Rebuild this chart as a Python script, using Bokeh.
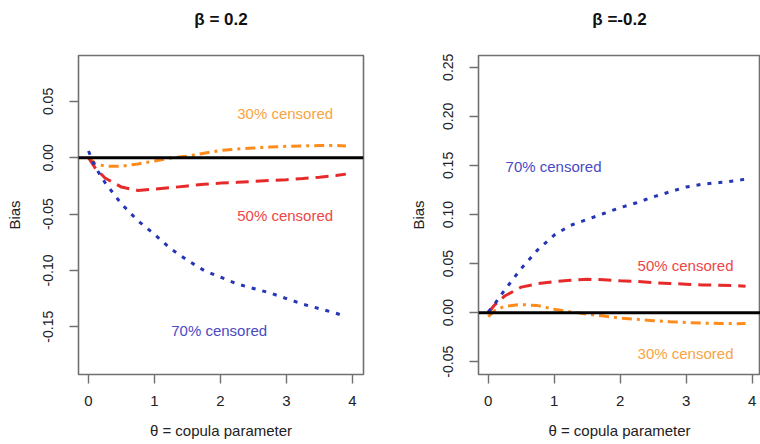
from bokeh.plotting import figure
from bokeh.layouts import row
from bokeh.models import (LinearAxis, Span, FixedTicker, NumeralTickFormatter,
                          Range1d)
from bokeh.embed import file_html
from bokeh.resources import INLINE

# ---------------- data ----------------
theta = [0, 0.1, 0.25, 0.5, 0.75, 1.0, 1.25, 1.5, 1.75, 2.0, 2.25, 2.5, 2.75,
         3.0, 3.25, 3.5, 3.75, 3.9]

# beta = 0.2
pos_c30 = [0.0005, -0.005, -0.0075, -0.0075, -0.0055, -0.0028, -0.0002, 0.0015,
           0.004, 0.0065, 0.0078, 0.0087, 0.0095, 0.0102, 0.0106, 0.0108, 0.011, 0.0105]
pos_c50 = [0.0, -0.009, -0.018, -0.026, -0.029, -0.0278, -0.0265, -0.025,
           -0.0235, -0.0225, -0.0218, -0.021, -0.0202, -0.0194, -0.0184, -0.0172, -0.0158, -0.0145]
pos_c70 = [0.006, -0.008, -0.022, -0.041, -0.056, -0.068, -0.081, -0.091,
           -0.100, -0.106, -0.112, -0.116, -0.120, -0.125, -0.130, -0.134, -0.138, -0.141]

# beta = -0.2
neg_c30 = [-0.004, 0.002, 0.0065, 0.0083, 0.0072, 0.0035, 0.0008, -0.0015,
           -0.0035, -0.0055, -0.0068, -0.0082, -0.0092, -0.0100, -0.0106, -0.0110, -0.0112, -0.0110]
neg_c50 = [0.0, 0.008, 0.017, 0.026, 0.0295, 0.0315, 0.033, 0.034,
           0.0335, 0.0325, 0.0318, 0.0305, 0.0297, 0.0290, 0.0283, 0.0279, 0.0275, 0.027]
neg_c70 = [0.0007, 0.009, 0.023, 0.045, 0.064, 0.079, 0.089, 0.095,
           0.101, 0.107, 0.112, 0.118, 0.123, 0.128, 0.131, 0.1325, 0.1345, 0.136]

series_labels = ["30% censored", "50% censored", "70% censored"]
pos_label_x = [2.98, 2.98, 1.98]
pos_label_y = [0.039, -0.051, -0.153]
neg_label_x = [2.99, 2.99, 0.99]
neg_label_y = [-0.042, 0.048, 0.149]

pos_yticks = [-0.15, -0.10, -0.05, 0.0, 0.05]
neg_yticks = [-0.05, 0.0, 0.05, 0.10, 0.15, 0.20, 0.25]
xticks = [0, 1, 2, 3, 4]

titles = ["\u03b2 = 0.2", "\u03b2 =-0.2"]
xlabel = "\u03b8 = copula parameter"
ylabel = "Bias"

# ---------------- style ----------------
FONT = "Liberation Sans"
line_colors = ["#FF8C1A", "#E62A2A", "#2535B5"]
text_colors = ["#F9A443", "#EE4646", "#4A4AC4"]
dashes = ["10 5 3 5", "13 7", "4 7"]
BOX = "#707070"


def panel(width, height, bl, br, bt, bb, xr, yr, yticks, title, series, lx, ly,
          ylab_standoff):
    p = figure(width=width, height=height, output_backend="svg",
               toolbar_location=None, x_range=Range1d(*xr), y_range=Range1d(*yr),
               min_border_left=bl, min_border_right=br, min_border_top=bt,
               min_border_bottom=bb)
    p.grid.visible = False
    p.background_fill_color = "white"
    p.border_fill_color = "white"
    p.outline_line_color = BOX
    p.outline_line_width = 1.6
    xa = p.below[0]
    ya = p.left[0]
    for ax in (xa, ya):
        ax.axis_line_color = None
        ax.major_tick_line_color = BOX
        ax.major_tick_line_width = 1.4
        ax.major_tick_out = 9
        ax.major_tick_in = 0
        ax.minor_tick_line_color = None
        ax.major_label_text_font = FONT
        ax.major_label_text_color = "#222222"
        ax.axis_label_text_font = FONT
        ax.axis_label_text_font_style = "normal"
        ax.axis_label_text_font_size = "15px"
        ax.axis_label_text_color = "#222222"
    xa.ticker = FixedTicker(ticks=xticks)
    xa.major_label_text_font_size = "15px"
    xa.major_label_standoff = 12
    xa.axis_label = xlabel
    xa.axis_label_standoff = 13
    ya.ticker = FixedTicker(ticks=yticks)
    ya.formatter = NumeralTickFormatter(format="0.00")
    ya.major_label_orientation = "parallel"
    ya.major_label_text_font_size = "14px"
    ya.major_label_standoff = 16
    ya.axis_label = ylabel
    ya.axis_label_standoff = ylab_standoff

    # panel title, drawn as the label of a tick-less axis above the frame
    top = LinearAxis(ticker=FixedTicker(ticks=[]), axis_label=title,
                     axis_line_color=None, major_tick_line_color=None,
                     minor_tick_line_color=None, major_tick_out=0,
                     major_tick_in=0, minor_tick_out=0, minor_tick_in=0,
                     major_label_standoff=0, major_label_text_font_size="0px",
                     axis_label_standoff=27, axis_label_text_font=FONT,
                     axis_label_text_font_size="17px",
                     axis_label_text_font_style="bold",
                     axis_label_text_color="#111111")
    p.add_layout(top, "above")

    p.add_layout(Span(location=0, dimension="width", line_color="black",
                      line_width=3))
    for ys, lc, dash in zip(series, line_colors, dashes):
        p.line(theta, ys, line_color=lc, line_width=3, line_dash=dash)
    p.text(x=lx, y=ly, text=series_labels, text_color=text_colors,
           text_font={"value": FONT}, text_font_size="15px",
           text_align="center", text_baseline="middle")
    return p


left = panel(404, 444, 78, 41, 55, 70, (-0.1515, 4.167), (-0.1924, 0.0908),
             pos_yticks, titles[0], [pos_c30, pos_c50, pos_c70],
             pos_label_x, pos_label_y, 18)
right = panel(356, 444, 74, 0, 55, 70, (-0.147, 4.126), (-0.063, 0.262),
              neg_yticks, titles[1], [neg_c30, neg_c50, neg_c70],
              neg_label_x, neg_label_y, 14)

layout = row(left, right)
open("out.html", "w").write(file_html(layout, INLINE))
